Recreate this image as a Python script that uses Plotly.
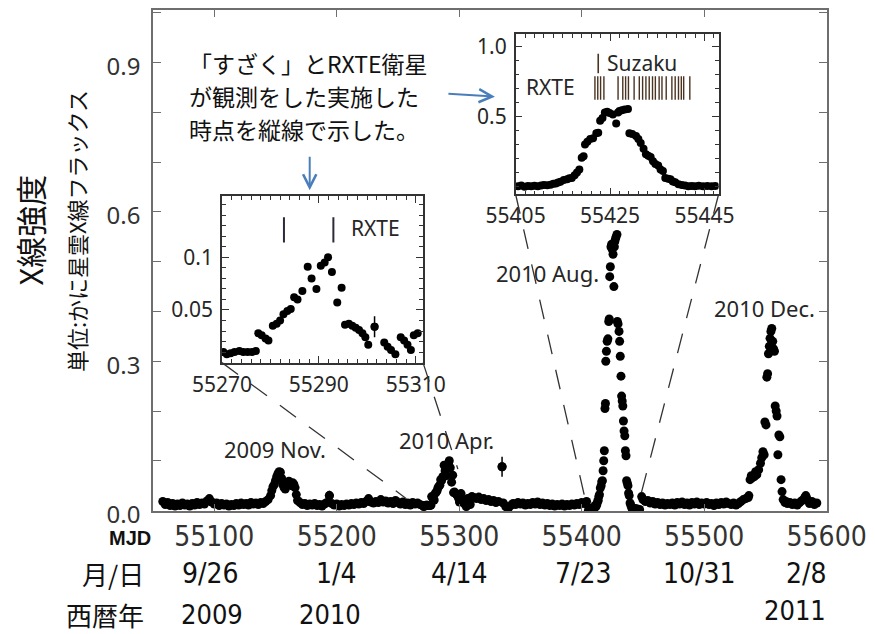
import plotly.graph_objects as go

# ---------------- data ----------------
# main light curve, outside the two inset windows
base_mjd = [55058, 55060, 55062, 55064, 55066, 55068, 55070, 55072, 55074, 55076,
            55078, 55080, 55082, 55084, 55086, 55088, 55090, 55092, 55094, 55096,
            55098, 55100, 55102, 55104, 55106, 55108, 55110, 55112, 55114, 55116,
            55118, 55120, 55122, 55124, 55126, 55128, 55130, 55132, 55134, 55136,
            55138, 55140, 55142, 55144,
            55146, 55147, 55148, 55149, 55150, 55151, 55152, 55153, 55154, 55155,
            55156, 55157, 55158, 55159, 55160, 55161, 55162, 55163, 55164, 55165,
            55166, 55167, 55168,
            55170, 55172, 55174, 55176, 55178, 55180, 55182, 55184, 55186, 55188,
            55190, 55192, 55194, 55196, 55198, 55200, 55202, 55204, 55206, 55208,
            55210, 55212, 55214, 55216, 55218, 55220, 55222, 55224, 55226, 55228,
            55230, 55232, 55234, 55236, 55238, 55240, 55242, 55244, 55246, 55248,
            55250, 55252, 55254, 55256, 55258, 55260, 55262, 55264, 55266, 55268,
            55312, 55314, 55316, 55318, 55320, 55322, 55324, 55326, 55328, 55330,
            55332, 55335, 55336, 55338, 55340, 55342, 55344, 55346, 55348, 55350,
            55352, 55354, 55356, 55358, 55360, 55362, 55364, 55366, 55368, 55370,
            55372, 55374, 55376, 55378, 55380, 55382, 55384, 55386, 55388, 55390,
            55392, 55394, 55396, 55398, 55400, 55402, 55404,
            55449, 55450, 55452, 55454, 55456, 55458, 55460, 55462, 55464, 55466,
            55468, 55470, 55472, 55474, 55476, 55478, 55480, 55482, 55484, 55486,
            55488, 55490, 55492, 55494, 55496, 55498, 55500, 55502, 55504, 55506,
            55508, 55510, 55512, 55514, 55516, 55518, 55520, 55522, 55524, 55526,
            55528, 55530, 55532, 55534, 55536,
            55536.5, 55537.5, 55538.5, 55539.5, 55541, 55542, 55543, 55544.5, 55546, 55547,
            55548, 55549, 55549.6, 55550.5, 55551.2, 55551.8, 55552.5, 55553.2, 55553.8, 55554.5,
            55555.2, 55556, 55556.7, 55557.4, 55558, 55558.8, 55559.5, 55560.2, 55561, 55561.8,
            55562.8, 55563.6, 55564.5,
            55566, 55567, 55568, 55570, 55572, 55574, 55576, 55578, 55580, 55582,
            55583, 55584, 55586, 55588, 55590, 55592]
base_flux = [0.018, 0.012, 0.016, 0.010, 0.014, 0.009, 0.013, 0.010, 0.015, 0.011,
             0.013, 0.009, 0.014, 0.011, 0.016, 0.012, 0.015, 0.013, 0.019, 0.024,
             0.017, 0.013, 0.015, 0.010, 0.014, 0.011, 0.013, 0.009, 0.012, 0.010,
             0.014, 0.011, 0.015, 0.012, 0.014, 0.011, 0.016, 0.013, 0.015, 0.012,
             0.016, 0.014, 0.018, 0.022,
             0.030, 0.040, 0.048, 0.052, 0.060, 0.068, 0.074, 0.078, 0.077, 0.065,
             0.052, 0.046, 0.043, 0.050, 0.057, 0.059, 0.055, 0.050, 0.056, 0.053,
             0.046, 0.032, 0.020,
             0.016, 0.012, 0.014, 0.010, 0.013, 0.011, 0.014, 0.010, 0.012, 0.009,
             0.013, 0.016, 0.030, 0.014, 0.011, 0.013, 0.009, 0.012, 0.010, 0.013,
             0.011, 0.014, 0.012, 0.015, 0.013, 0.016, 0.014, 0.018, 0.024, 0.017,
             0.015, 0.018, 0.016, 0.022, 0.017, 0.019, 0.015, 0.018, 0.014, 0.020,
             0.016, 0.013, 0.017, 0.012, 0.015, 0.011, 0.016, 0.013, 0.015, 0.012,
             0.026, 0.024, 0.027, 0.022, 0.024, 0.020, 0.022, 0.018, 0.020, 0.016,
             0.018, 0.088, 0.015, 0.008, 0.004, 0.010, 0.014, 0.012, 0.016, 0.013,
             0.015, 0.011, 0.014, 0.012, 0.016, 0.013, 0.017, 0.012, 0.015, 0.011,
             0.014, 0.010, 0.013, 0.009, 0.012, 0.010, 0.013, 0.009, 0.012, 0.010,
             0.013, 0.011, 0.014, 0.012, 0.016, 0.014, 0.018,
             0.028, 0.022, 0.018, 0.020, 0.015, 0.018, 0.013, 0.016, 0.012, 0.015,
             0.011, 0.014, 0.012, 0.015, 0.011, 0.016, 0.013, 0.017, 0.012, 0.015,
             0.011, 0.016, 0.013, 0.017, 0.012, 0.015, 0.013, 0.016, 0.012, 0.014,
             0.010, 0.015, 0.012, 0.016, 0.013, 0.017, 0.014, 0.012, 0.015, 0.011,
             0.014, 0.018, 0.022, 0.024, 0.026,
             0.030, 0.062, 0.070, 0.066, 0.068, 0.078, 0.072, 0.082, 0.095, 0.106,
             0.118, 0.112, 0.178, 0.172, 0.268, 0.275, 0.315, 0.330, 0.346, 0.360,
             0.366, 0.340, 0.325, 0.320, 0.210, 0.200, 0.190, 0.112, 0.152, 0.148,
             0.062, 0.038, 0.022,
             0.016, 0.018, 0.014, 0.016, 0.012, 0.015, 0.011, 0.016, 0.020, 0.026,
             0.030, 0.024, 0.014, 0.018, 0.012, 0.015]

# points drawn with visible error bars on the main panel
err_mjd = [55194, 55335]
err_flux = [0.030, 0.088]
err_size = [0.010, 0.020]

# inset 1: 2010 April flare
inset1_mjd = [55270.3, 55271.0, 55271.8, 55272.6, 55273.6, 55274.4, 55275.3, 55276.2, 55277.0, 55277.5,
              55278.2, 55279.0, 55279.6, 55280.5, 55281.3, 55282.0, 55282.7, 55283.5, 55284.2, 55284.9,
              55285.6, 55286.6, 55287.7, 55288.5, 55289.5, 55290.4, 55291.2, 55291.9, 55292.7, 55293.8,
              55294.7, 55295.4, 55296.2, 55296.9, 55297.6, 55298.3, 55299.0, 55299.6, 55300.2, 55301.5,
              55303.5, 55304.2, 55304.9, 55305.8, 55306.9, 55307.6, 55308.3, 55309.0, 55309.6, 55310.4]
inset1_flux = [0.010, 0.008, 0.009, 0.010, 0.011, 0.010, 0.010, 0.010, 0.011, 0.028,
               0.026, 0.023, 0.021, 0.035, 0.037, 0.040, 0.046, 0.049, 0.051, 0.062,
               0.060, 0.068, 0.091, 0.080, 0.070, 0.092, 0.095, 0.100, 0.086, 0.057,
               0.071, 0.036, 0.037, 0.035, 0.033, 0.031, 0.028, 0.024, 0.017, 0.034,
               0.019, 0.015, 0.012, 0.008, 0.024, 0.021, 0.017, 0.012, 0.026, 0.028]
inset1_err_mjd = [55301.5]
inset1_err_flux = [0.034]
inset1_err = [0.010]
inset1_obs = [55282.8, 55293.0]

# inset 2: 2010 August flare
inset2_mjd = [55405.5, 55406.2, 55406.9, 55407.6, 55408.3, 55409.0, 55409.7, 55410.4, 55411.0, 55411.7,
              55412.4, 55413.0, 55413.5, 55414.0, 55414.5, 55415.2, 55415.9, 55416.4, 55416.9, 55417.5,
              55418.0, 55418.5, 55419.0, 55419.4, 55419.7, 55420.2, 55420.8, 55421.4, 55422.1, 55422.5,
              55422.9, 55423.4, 55423.9, 55424.4, 55424.9, 55425.6, 55426.3, 55426.7, 55427.0, 55427.5,
              55428.1, 55428.8, 55429.1, 55429.7, 55430.5, 55431.0, 55431.5, 55432.1, 55432.6, 55433.1,
              55433.6, 55434.1, 55434.6, 55435.2, 55435.7, 55436.2, 55436.7, 55437.3, 55437.8, 55438.3,
              55438.8, 55439.5, 55440.2, 55440.9, 55441.6, 55442.3, 55443.0, 55443.8, 55444.7, 55445.6,
              55446.5, 55447.3]
inset2_flux = [0.000, 0.005, -0.003, 0.002, 0.000, 0.004, 0.001, 0.006, 0.010, 0.008,
               0.012, 0.018, 0.020, 0.028, 0.032, 0.045, 0.050, 0.058, 0.060, 0.080,
               0.100, 0.120, 0.205, 0.215, 0.300, 0.320, 0.340, 0.345, 0.380, 0.385,
               0.470, 0.490, 0.530, 0.535, 0.525, 0.515, 0.450, 0.530, 0.540, 0.545,
               0.550, 0.555, 0.380, 0.375, 0.360, 0.340, 0.310, 0.270, 0.230, 0.220,
               0.210, 0.180, 0.160, 0.150, 0.120, 0.110, 0.060, 0.055, 0.050, 0.035,
               0.030, 0.015, 0.010, 0.005, 0.000, 0.003, 0.000, 0.004, 0.001, 0.003,
               0.000, 0.002]
inset2_suzaku = [55422.5]
inset2_rxte = [55421.8, 55422.4, 55423.0, 55423.7, 55426.7, 55427.7, 55428.3, 55428.9,
               55430.1, 55431.2, 55431.9, 55432.6, 55433.3, 55434.0, 55434.6, 55435.4,
               55436.0, 55436.9, 55438.1, 55438.8, 55439.5, 55440.1, 55440.6, 55441.9]

main_xticks = [55100, 55200, 55300, 55400, 55500, 55600]
main_yticks = [0.0, 0.3, 0.6, 0.9]
inset1_xticks = [55270, 55290, 55310]
inset1_yticks = [0.05, 0.1]
inset2_xticks = [55405, 55425, 55445]
inset2_yticks = [0.5, 1.0]
month_day = ["9/26", "1/4", "4/14", "7/23", "10/31", "2/8"]
years = ["2009", "2010", "2011"]
flare_labels = ["2009 Nov.", "2010 Apr.", "2010 Aug.", "2010 Dec."]
note_lines = ["「すざく」とRXTE衛星", "が観測をした実施した", "時点を縦線で示した。"]

# ---------------- layout constants ----------------
W, H = 875, 634
ML, MR, MT, MB = 153, 38, 8, 123
X_RANGE = [55050, 55600.3]
Y_RANGE = [-0.001, 1.006]
IN1_X, IN1_Y = [0.1023, 0.4006], [0.2962, 0.6282]
IN2_X, IN2_Y = [0.5380, 0.8392], [0.6322, 0.9523]

NARROW = "Liberation Sans Narrow, Arial Narrow, DejaVu Sans Condensed, Liberation Sans, sans-serif"
SANS = "Noto Sans, Open Sans, sans-serif"
CJK = "Noto Sans CJK JP, sans-serif"
TXT = "#262626"


def to_paper(mjd, flux):
    return ((mjd - X_RANGE[0]) / (X_RANGE[1] - X_RANGE[0]),
            (flux - Y_RANGE[0]) / (Y_RANGE[1] - Y_RANGE[0]))


def obs_lines(times, y0, y1):
    xs, ys = [], []
    for t in times:
        xs += [t, t, None]
        ys += [y0, y1, None]
    return xs, ys


fig = go.Figure()
mk_main = dict(color="black", size=9)
mk = dict(color="black", size=8)

fig.add_trace(go.Scatter(x=base_mjd + inset1_mjd + inset2_mjd,
                         y=base_flux + inset1_flux + inset2_flux,
                         mode="markers", marker=mk_main, hoverinfo="skip"))
fig.add_trace(go.Scatter(x=err_mjd, y=err_flux, mode="markers", marker=mk_main,
                         error_y=dict(type="data", array=err_size, color="black",
                                      thickness=1.5, width=0)))

fig.add_trace(go.Scatter(x=inset1_mjd, y=inset1_flux, mode="markers", marker=mk,
                         xaxis="x2", yaxis="y2"))
fig.add_trace(go.Scatter(x=inset1_err_mjd, y=inset1_err_flux, mode="markers", marker=mk,
                         error_y=dict(type="data", array=inset1_err, color="black",
                                      thickness=1.5, width=0),
                         xaxis="x2", yaxis="y2"))
ox, oy = obs_lines(inset1_obs, 0.114, 0.138)
fig.add_trace(go.Scatter(x=ox, y=oy, mode="lines", line=dict(color="#2a2a3a", width=2),
                         xaxis="x2", yaxis="y2"))

fig.add_trace(go.Scatter(x=inset2_mjd, y=inset2_flux, mode="markers", marker=mk,
                         xaxis="x3", yaxis="y3"))
ox, oy = obs_lines(inset2_suzaku, 0.81, 0.95)
fig.add_trace(go.Scatter(x=ox, y=oy, mode="lines", line=dict(color="#4a3320", width=1.6),
                         xaxis="x3", yaxis="y3"))
ox, oy = obs_lines(inset2_rxte, 0.62, 0.79)
fig.add_trace(go.Scatter(x=ox, y=oy, mode="lines", line=dict(color="#4a3320", width=1.4),
                         xaxis="x3", yaxis="y3"))

frame = dict(showline=True, mirror="ticks", showgrid=False, zeroline=False, ticks="inside")
in_font = dict(family=SANS, size=21, color=TXT)

fig.update_layout(
    width=W, height=H, showlegend=False,
    margin=dict(l=ML, r=MR, t=MT, b=MB, pad=0),
    paper_bgcolor="white", plot_bgcolor="white",
    font=dict(family=SANS, color=TXT),
    xaxis=dict(domain=[0, 1], range=X_RANGE, tickvals=main_xticks,
               ticktext=[str(v) for v in main_xticks], ticklen=7, linecolor="#6e6e6e",
               linewidth=1.5, tickcolor="#6e6e6e", tickfont=dict(family=NARROW, size=28, color="#333"),
               ticklabelstandoff=0, ticklabeloverflow="allow", **frame),
    yaxis=dict(domain=[0, 1], range=Y_RANGE, tickvals=main_yticks,
               ticktext=["%.1f" % v for v in main_yticks], ticklen=8, linecolor="#6e6e6e",
               linewidth=1.5, tickcolor="#6e6e6e",
               minor=dict(dtick=0.1, tick0=0, ticks="inside", ticklen=8, tickcolor="#6e6e6e"),
               tickfont=dict(family=SANS, size=24, color="#333"), ticklabelstandoff=6,
               ticklabelshift=4, **frame),
    xaxis2=dict(domain=IN1_X, anchor="y2", range=[55270, 55311.5], tickvals=inset1_xticks,
                ticktext=[str(v) for v in inset1_xticks],
                ticklen=7, linecolor="#333", linewidth=1.5, tickcolor="#333",
                minor=dict(dtick=2, tick0=55270, ticks="inside", ticklen=4, tickcolor="#333"),
                tickfont=in_font, ticklabelstandoff=2, ticklabeloverflow="allow", **frame),
    yaxis2=dict(domain=IN1_Y, anchor="x2", range=[0, 0.158], tickvals=inset1_yticks,
                ticktext=["0.05", "0.1"], ticklen=7, linecolor="#333", linewidth=1.5, tickcolor="#333",
                minor=dict(dtick=0.01, tick0=0, ticks="inside", ticklen=4, tickcolor="#333"),
                tickfont=in_font, ticklabelstandoff=3, **frame),
    xaxis3=dict(domain=IN2_X, anchor="y3", range=[55405, 55448], tickvals=inset2_xticks,
                ticktext=[str(v) for v in inset2_xticks],
                ticklen=7, linecolor="#333", linewidth=1.5, tickcolor="#333",
                minor=dict(dtick=2, tick0=55405, ticks="inside", ticklen=4, tickcolor="#333"),
                tickfont=in_font, ticklabelstandoff=2, ticklabeloverflow="allow", **frame),
    yaxis3=dict(domain=IN2_Y, anchor="x3", range=[-0.057, 1.093], tickvals=inset2_yticks,
                ticktext=["0.5", "1.0"], ticklen=7, linecolor="#333", linewidth=1.5, tickcolor="#333",
                minor=dict(dtick=0.1, tick0=0, ticks="inside", ticklen=4, tickcolor="#333"),
                tickfont=in_font, ticklabelstandoff=3, **frame),
)

# dashed lines joining insets to the flares
shapes = []
links = [((IN1_X[0], IN1_Y[0]), (55270, 0.0), 0.92),
         ((IN1_X[1], IN1_Y[0]), (55310, 0.0), 0.72),
         ((IN2_X[0], IN2_Y[0]), (55405, 0.0), 0.95),
         ((IN2_X[1], IN2_Y[0]), (55445, 0.0), 0.95)]
for (x0, y0), (m, f), frac in links:
    x1, y1 = to_paper(m, f)
    shapes.append(dict(type="line", xref="paper", yref="paper", x0=x0, y0=y0,
                       x1=x0 + (x1 - x0) * frac, y1=y0 + (y1 - y0) * frac,
                       line=dict(color="#333", width=1.3, dash="20px,16px")))
fig.update_layout(shapes=shapes)

ann = []
# explanatory note (one annotation per line) and arrows
for i, line in enumerate(note_lines):
    ann.append(dict(xref="paper", yref="paper", x=0.051, y=0.8946 - i * 0.0656,
                    xanchor="left", yanchor="middle", showarrow=False, text=line,
                    font=dict(family=CJK, size=23, color="#111")))
ann.append(dict(xref="paper", yref="paper", x=0.2325, y=0.640, ax=0, ay=-35, text="",
                showarrow=True, arrowhead=5, arrowsize=1.3, arrowwidth=2, arrowcolor="#4a7ebb"))
ann.append(dict(xref="paper", yref="paper", x=0.5073, y=0.827, ax=-48, ay=-3, text="",
                showarrow=True, arrowhead=5, arrowsize=1.3, arrowwidth=2, arrowcolor="#4a7ebb"))

# flare labels on the main panel
for txt, (m, f) in zip(flare_labels, [(55149.6, 0.124), (55289.4, 0.142),
                                       (55372.1, 0.478), (55549.6, 0.408)]):
    ann.append(dict(xref="x", yref="y", x=m, y=f, text=txt, showarrow=False,
                    font=dict(family=SANS, size=22, color=TXT)))

# inset texts
ann.append(dict(xref="x2", yref="y2", x=55296.2, y=0.128, text="RXTE", xanchor="left",
                showarrow=False, font=in_font))
ann.append(dict(xref="x3", yref="y3", x=55406.7, y=0.714, text="RXTE", xanchor="left",
                showarrow=False, font=in_font))
ann.append(dict(xref="x3", yref="y3", x=55424.0, y=0.885, text="Suzaku", xanchor="left",
                showarrow=False, font=in_font))

# y-axis titles
ann.append(dict(xref="paper", yref="paper", x=-0.183, y=0.561, xanchor="center", yanchor="middle",
                text="X線強度", textangle=-90,
                showarrow=False, font=dict(family=CJK, size=31, color="#111")))
ann.append(dict(xref="paper", yref="paper", x=-0.114, y=0.559, xanchor="center", yanchor="middle",
                text="単位:かに星雲X線フラックス",
                textangle=-90, showarrow=False, font=dict(family=CJK, size=22, color="#111")))

# rows under the x axis
ROW_MD, ROW_YR = -0.1252, -0.2068
ann.append(dict(xref="paper", yref="paper", x=0.0, y=-0.053, xanchor="right", yanchor="middle",
                text="<b>MJD</b>", showarrow=False,
                font=dict(family="Liberation Sans, Arial, sans-serif", size=20, color="#111")))
ann.append(dict(xref="paper", yref="paper", x=-0.010, y=ROW_MD, xanchor="right", yanchor="middle",
                text="月/日", showarrow=False, font=dict(family=CJK, size=26, color="#111")))
ann.append(dict(xref="paper", yref="paper", x=-0.010, y=ROW_YR, xanchor="right", yanchor="middle",
                text="西暦年", showarrow=False, font=dict(family=CJK, size=26, color="#111")))
md_pos = [(55096.6, ROW_MD), (55200.2, ROW_MD), (55300.6, ROW_MD), (55401.8, ROW_MD),
          (55495.8, ROW_MD), (55583.3, ROW_MD)]
for txt, (m, yp) in zip(month_day, md_pos):
    ann.append(dict(xref="x", yref="paper", x=m, y=yp, yanchor="middle", text=txt,
                    showarrow=False, font=dict(family=NARROW, size=28, color="#111")))
yr_pos = [(55098.2, ROW_YR), (55194.6, ROW_YR), (55574.5, ROW_YR + 0.008)]
for txt, (m, yp) in zip(years, yr_pos):
    ann.append(dict(xref="x", yref="paper", x=m, y=yp, yanchor="middle", text=txt,
                    showarrow=False, font=dict(family=NARROW, size=27, color="#111")))

fig.update_layout(annotations=ann)
fig.write_html("out.html")
